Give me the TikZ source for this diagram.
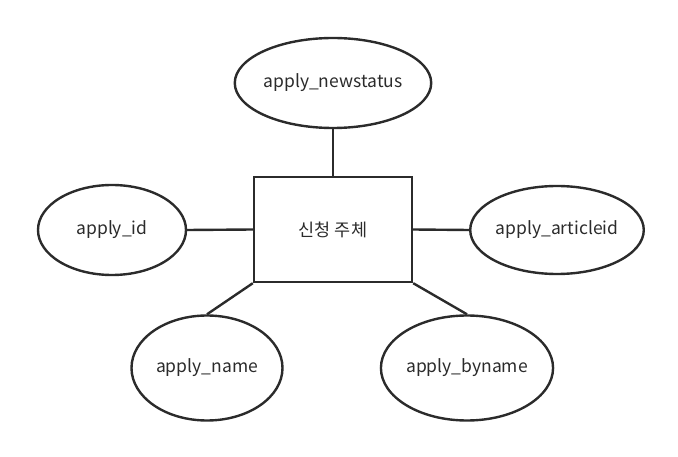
\documentclass[tikz,border=0pt]{standalone}
\usepackage{fontspec}
\setmainfont{Noto Sans CJK KR}
\usetikzlibrary{shapes.geometric}
\definecolor{inkgray}{HTML}{2B2B2B}
\begin{document}
\begin{tikzpicture}[x=1pt,y=-1pt,line width=2.4pt,draw=inkgray,
                    attr/.style={ellipse,draw=inkgray,inner sep=0pt,text=inkgray,font=\fontsize{17.5}{20}\selectfont},
                    entity/.style={rectangle,draw=inkgray,inner sep=0pt,text=inkgray,font=\fontsize{17.5}{20}\selectfont}]
  \useasboundingbox (0,0) rectangle (678,457);

  \node[entity,minimum width=158pt,minimum height=105pt] (main) at (333,229.5) {신청 주체};
  \node[attr,minimum width=190pt,minimum height=90pt] (newstatus) at (333,83) {apply\_newstatus};
  \node[attr,minimum width=148pt,minimum height=90pt] (id) at (112,230) {apply\_id};
  \node[attr,minimum width=168pt,minimum height=88pt] (articleid) at (557,230) {apply\_articleid};
  \node[attr,minimum width=151pt,minimum height=105pt] (name) at (207,368) {apply\_name};
  \node[attr,minimum width=163pt,minimum height=105pt] (byname) at (467,368) {apply\_byname};

  \draw[inkgray] (main.north) -- (newstatus.south);
  \draw[inkgray] (main.west) -- (id.east);
  \draw[inkgray] (main.east) -- (articleid.west);
  \draw[inkgray] (main.south west) -- (name.north);
  \draw[inkgray] (main.south east) -- (byname.north);
\end{tikzpicture}
\end{document}
